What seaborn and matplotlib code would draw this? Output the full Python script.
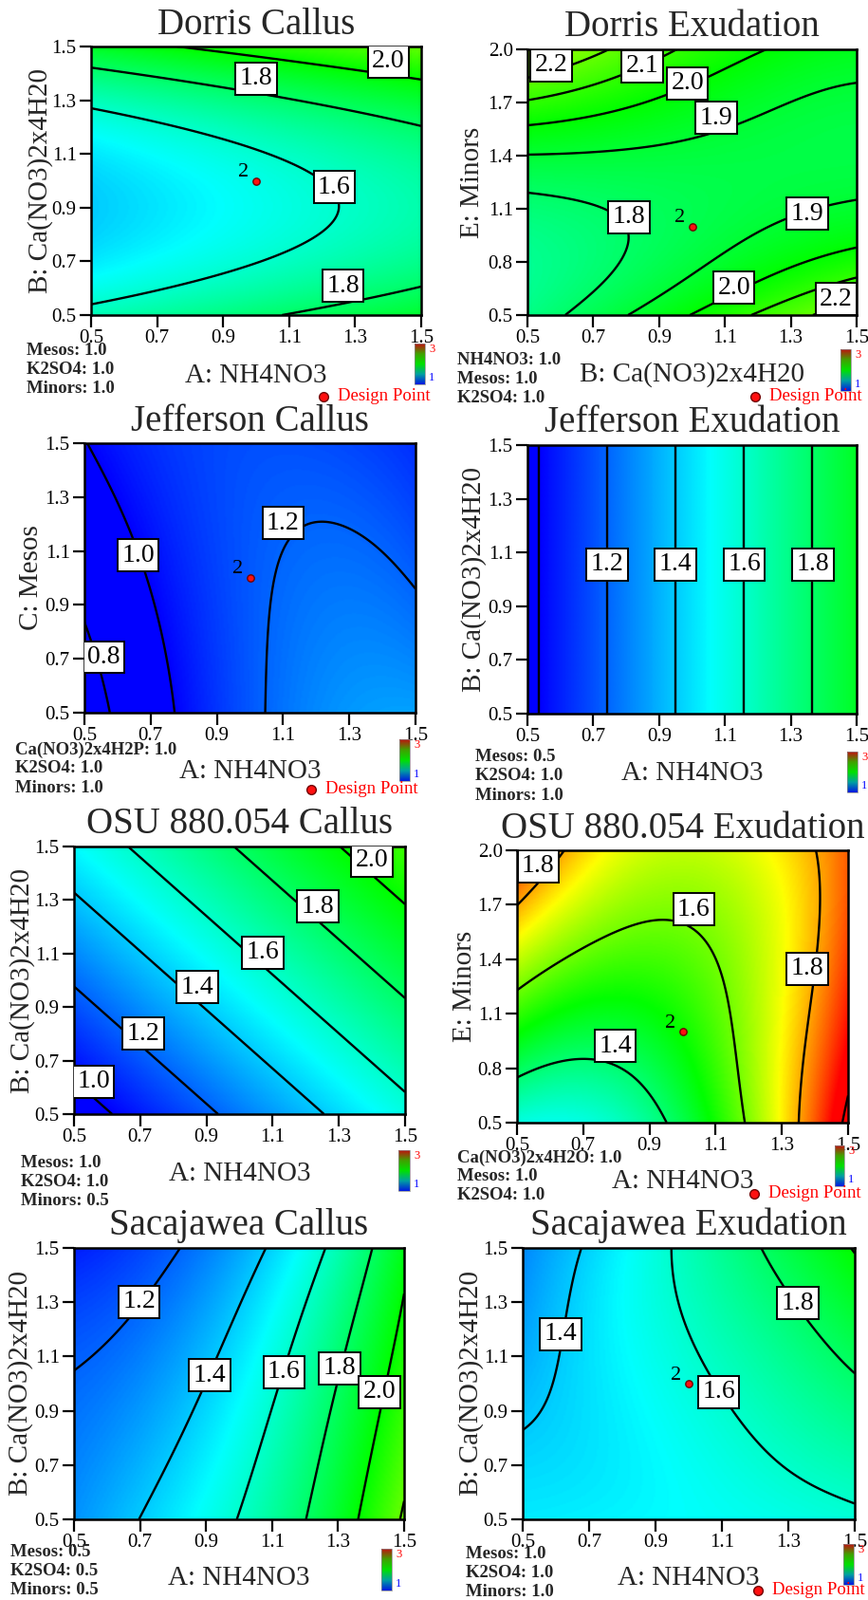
import numpy as np
import matplotlib
matplotlib.use("Agg")
import matplotlib.pyplot as plt
import seaborn as sns
from matplotlib.colors import LinearSegmentedColormap, Normalize
from matplotlib.cm import ScalarMappable
from matplotlib.lines import Line2D

# ---------------- data ----------------
factor_ticks = [0.5, 0.7, 0.9, 1.1, 1.3, 1.5]
minors_ticks = [0.5, 0.8, 1.1, 1.4, 1.7, 2.0]

titles = ["Dorris Callus", "Dorris Exudation", "Jefferson Callus", "Jefferson Exudation",
          "OSU 880.054 Callus", "OSU 880.054 Exudation", "Sacajawea Callus", "Sacajawea Exudation"]
x_labels = ["A: NH4NO3", "B: Ca(NO3)2x4H20", "A: NH4NO3", "A: NH4NO3",
            "A: NH4NO3", "A: NH4NO3", "A: NH4NO3", "A: NH4NO3"]
y_labels = ["B: Ca(NO3)2x4H20", "E: Minors", "C: Mesos", "B: Ca(NO3)2x4H20",
            "B: Ca(NO3)2x4H20", "E: Minors", "B: Ca(NO3)2x4H20", "B: Ca(NO3)2x4H20"]
footnotes = [
    ["Mesos: 1.0", "K2SO4: 1.0", "Minors: 1.0"],
    ["NH4NO3: 1.0", "Mesos: 1.0", "K2SO4: 1.0"],
    ["Ca(NO3)2x4H2P: 1.0", "K2SO4: 1.0", "Minors: 1.0"],
    ["Mesos: 0.5", "K2SO4: 1.0", "Minors: 1.0"],
    ["Mesos: 1.0", "K2SO4: 1.0", "Minors: 0.5"],
    ["Ca(NO3)2x4H2O: 1.0", "Mesos: 1.0", "K2SO4: 1.0"],
    ["Mesos: 0.5", "K2SO4: 0.5", "Minors: 0.5"],
    ["Mesos: 1.0", "K2SO4: 1.0", "Minors: 1.0"],
]

# response read on the tick grid: rows = y ticks (bottom -> top), cols = x ticks (left -> right)
dorris_callus = [
    [1.646, 1.699, 1.752, 1.806, 1.859, 1.912],
    [1.463, 1.516, 1.569, 1.623, 1.676, 1.729],
    [1.400, 1.453, 1.506, 1.560, 1.613, 1.666],
    [1.457, 1.510, 1.563, 1.617, 1.670, 1.723],
    [1.634, 1.687, 1.740, 1.794, 1.847, 1.900],
    [1.931, 1.984, 2.037, 2.091, 2.144, 2.197],
]
dorris_exudation = [
    [1.74, 1.84, 1.95, 2.055, 2.16, 2.27],
    [1.72, 1.77, 1.85, 1.93, 1.985, 2.05],
    [1.77, 1.80, 1.83, 1.86, 1.885, 1.91],
    [1.885, 1.875, 1.865, 1.86, 1.86, 1.865],
    [2.10, 2.06, 2.00, 1.95, 1.91, 1.88],
    [2.34, 2.21, 2.13, 2.04, 1.97, 1.95],
]
jefferson_callus = [
    [0.71, 0.93, 1.10, 1.24, 1.29, 1.32],
    [0.76, 0.96, 1.11, 1.23, 1.27, 1.27],
    [0.82, 0.99, 1.12, 1.22, 1.24, 1.21],
    [0.88, 1.03, 1.13, 1.205, 1.21, 1.17],
    [0.94, 1.06, 1.14, 1.185, 1.18, 1.13],
    [0.995, 1.09, 1.14, 1.16, 1.14, 1.09],
]
jefferson_exudation = [
    [0.967, 1.160, 1.352, 1.544, 1.737, 1.929],
    [0.967, 1.160, 1.352, 1.544, 1.737, 1.929],
    [0.967, 1.160, 1.352, 1.544, 1.737, 1.929],
    [0.967, 1.160, 1.352, 1.544, 1.737, 1.929],
    [0.967, 1.160, 1.352, 1.544, 1.737, 1.929],
    [0.967, 1.160, 1.352, 1.544, 1.737, 1.929],
]
osu_callus = [
    [0.928, 1.053, 1.178, 1.303, 1.428, 1.553],
    [1.042, 1.167, 1.292, 1.417, 1.542, 1.667],
    [1.156, 1.281, 1.406, 1.531, 1.656, 1.781],
    [1.270, 1.395, 1.520, 1.645, 1.770, 1.895],
    [1.384, 1.509, 1.634, 1.759, 1.884, 2.009],
    [1.498, 1.623, 1.748, 1.873, 1.998, 2.123],
]
osu_exudation = [
    [1.30, 1.31, 1.36, 1.52, 1.73, 2.03],
    [1.417, 1.385, 1.41, 1.555, 1.73, 1.97],
    [1.545, 1.50, 1.49, 1.575, 1.72, 1.93],
    [1.67, 1.58, 1.54, 1.60, 1.72, 1.90],
    [1.80, 1.68, 1.62, 1.63, 1.72, 1.87],
    [1.93, 1.76, 1.68, 1.68, 1.74, 1.87],
]
sacajawea_callus = [
    [1.29, 1.404, 1.533, 1.69, 1.925, 2.22],
    [1.26, 1.35, 1.475, 1.645, 1.865, 2.16],
    [1.225, 1.31, 1.42, 1.615, 1.83, 2.11],
    [1.19, 1.27, 1.37, 1.555, 1.79, 2.05],
    [1.13, 1.19, 1.31, 1.48, 1.71, 2.01],
    [1.06, 1.13, 1.26, 1.42, 1.65, 1.96],
]
sacajawea_exudation = [
    [1.465, 1.48, 1.50, 1.52, 1.55, 1.58],
    [1.425, 1.45, 1.49, 1.54, 1.605, 1.65],
    [1.385, 1.45, 1.515, 1.59, 1.67, 1.74],
    [1.34, 1.45, 1.54, 1.63, 1.73, 1.83],
    [1.30, 1.44, 1.555, 1.67, 1.785, 1.915],
    [1.27, 1.418, 1.566, 1.714, 1.862, 2.01],
]
responses = [dorris_callus, dorris_exudation, jefferson_callus, jefferson_exudation,
             osu_callus, osu_exudation, sacajawea_callus, sacajawea_exudation]
y_tick_sets = [factor_ticks, minors_ticks, factor_ticks, factor_ticks,
               factor_ticks, minors_ticks, factor_ticks, factor_ticks]

contour_levels = [
    [1.6, 1.8, 2.0],
    [1.8, 1.9, 2.0, 2.1, 2.2],
    [0.8, 1.0, 1.2],
    [1.0, 1.2, 1.4, 1.6, 1.8],
    [1.0, 1.2, 1.4, 1.6, 1.8, 2.0],
    [1.4, 1.6, 1.8, 2.0],
    [1.2, 1.4, 1.6, 1.8, 2.0, 2.2],
    [1.4, 1.6, 1.8, 2.0],
]
color_limits = [(1.0, 3.0), (1.0, 3.0), (1.0, 3.0), (1.0, 3.0),
                (1.0, 3.0), (1.05, 1.95), (1.0, 3.0), (1.0, 3.0)]
design_point_x = [1.0]
design_point_y = [1.0]
design_point_label = "2"
has_design_point = [True, True, True, False, False, True, False, True]

# ---------------- layout (pixels) ----------------
W, H = 915, 1686
axes_px = [(96, 444, 49, 332), (556, 903, 52, 332), (89, 438, 467, 751), (556, 903, 469, 752),
           (78, 427, 892, 1174), (545, 894, 896, 1183), (78, 426, 1315, 1601), (551, 901, 1315, 1601)]
title_y = [27, 29, 444, 446, 869, 873, 1291, 1291]
xlabel_y = [396, 395, 813, 815, 1237, 1245, 1663, 1663]
ylabel_x = [43, 498, 33, 500, 24, 490, 22, 497]
foot_pos = [(28, 370), (482, 380), (16, 790), (501, 798), (22, 1225), (482, 1220), (11, 1636), (491, 1637)]
cbar_px = [(437, 448, 362, 405), (886, 897, 368, 412), (421, 432, 779, 823), (893, 904, 792, 835),
           (420, 432, 1212, 1255), (880, 890, 1207, 1250), (402, 413, 1632, 1676), (889, 900, 1627, 1670)]
legend_px = [(341, 418), (796, 418), (328, 832), None, None, (795, 1258), None, (799, 1676)]
label_positions = [
    [(1.401, 1.445), (1.0, 1.38), (1.237, 0.977), (1.263, 0.608)],
    [(0.572, 1.911), (0.848, 1.905), (0.986, 1.809), (1.074, 1.613), (0.808, 1.054),
     (1.351, 1.071), (1.127, 0.655), (1.438, 0.589)],
    [(0.662, 1.083), (0.559, 0.706), (1.1, 1.203)],
    [(0.742, 1.056), (0.95, 1.056), (1.159, 1.056), (1.368, 1.056)],
    [(0.559, 0.621), (0.71, 0.80), (0.873, 0.975), (1.071, 1.103), (1.236, 1.276), (1.399, 1.447)],
    [(0.564, 1.913), (1.034, 1.674), (1.377, 1.347), (0.797, 0.923)],
    [(0.697, 1.302), (0.911, 1.030), (1.136, 1.042), (1.304, 1.057), (1.426, 0.969)],
    [(0.614, 1.183), (1.09, 0.969), (1.329, 1.297)],
]

# ---------------- style ----------------
sns.set_theme(style="ticks")
serif = ["Liberation Serif", "DejaVu Serif"]
plt.rcParams["font.family"] = serif
plt.rcParams["axes.linewidth"] = 1.8

cmap = LinearSegmentedColormap.from_list(
    "de", ["#0000ff", "#00ffff", "#00ff00", "#ffff00", "#ff0000"])
icon_cmap = LinearSegmentedColormap.from_list(
    "icon", ["#0018e0", "#00a0a0", "#00e000", "#40a000", "#c01010"])


def fx(px):
    return px / W


def fy(py):
    return 1 - py / H


def fit_surface(xv, yv, zrows, n=241):
    xv = np.asarray(xv, float)
    yv = np.asarray(yv, float)
    Z = np.asarray(zrows, float)
    gx, gy = np.meshgrid(xv, yv)
    cx, sx = xv.mean(), np.ptp(xv) / 2
    cy, sy = yv.mean(), np.ptp(yv) / 2

    def basis(x, y):
        u = (x - cx) / sx
        v = (y - cy) / sy
        return np.stack([u ** i * v ** j for i in range(4) for j in range(4)], axis=-1)

    coef, *_ = np.linalg.lstsq(basis(gx.ravel(), gy.ravel()), Z.ravel(), rcond=None)
    FX, FY = np.meshgrid(np.linspace(xv.min(), xv.max(), n), np.linspace(yv.min(), yv.max(), n))
    return FX, FY, basis(FX, FY) @ coef


fig = plt.figure(figsize=(W / 100, H / 100), dpi=100)

for k in range(8):
    l, r, t, b = axes_px[k]
    ax = fig.add_axes([fx(l), fy(b), (r - l) / W, (b - t) / H])
    xs, ys = factor_ticks, y_tick_sets[k]
    FX, FY, FZ = fit_surface(xs, ys, responses[k])
    vmin, vmax = color_limits[k]
    ax.pcolormesh(FX, FY, FZ, cmap=cmap, norm=Normalize(vmin, vmax), shading="gouraud", zorder=1)
    cs = ax.contour(FX, FY, FZ, levels=contour_levels[k], colors="black", linewidths=1.7, zorder=3)
    ax.clabel(cs, inline=False, fontsize=20, fmt="%.1f", colors="black",
              manual=label_positions[k])
    for txt, pos in zip(cs.labelTexts, label_positions[k]):
        txt.set_position(pos)
        txt.set_rotation(0)
        txt.set_family(serif)
        txt.set_zorder(6)
        txt.set_bbox(dict(boxstyle="square,pad=0.16", fc="white", ec="black", lw=1.4))

    if has_design_point[k]:
        sns.scatterplot(x=design_point_x, y=design_point_y, ax=ax, color="#ff1010",
                        edgecolor="#700000", linewidth=1.0, s=28, zorder=7, legend=False)
        ax.annotate(design_point_label, (design_point_x[0], design_point_y[0]),
                    xytext=(-13, 9), textcoords="offset pixels", ha="center", va="center",
                    fontsize=16, color="black", zorder=7)

    ax.set_xlim(xs[0], xs[-1])
    ax.set_ylim(ys[0], ys[-1])
    ax.set_xticks(xs)
    ax.set_yticks(ys)
    ax.set_xticklabels([f"{v:.1f}" for v in xs])
    ax.set_yticklabels([f"{v:.1f}" for v in ys])
    ax.tick_params(direction="out", length=9, width=1.6, labelsize=15, pad=2,
                   colors="black", top=False, right=False)
    for sp in ax.spines.values():
        sp.set_color("black")
        sp.set_linewidth(1.8)
    ax.set_xlabel("")
    ax.set_ylabel("")

    cxp = (l + r) / 2
    fig.text(fx(cxp), fy(title_y[k]), titles[k], ha="center", va="center", fontsize=28)
    fig.text(fx(cxp), fy(xlabel_y[k]), x_labels[k], ha="center", va="center", fontsize=21)
    fig.text(fx(ylabel_x[k]), fy((t + b) / 2), y_labels[k], ha="center", va="center",
             rotation=90, fontsize=21)
    x0, y0 = foot_pos[k]
    for i, line in enumerate(footnotes[k]):
        fig.text(fx(x0), fy(y0 + 20 * i), line, ha="left", va="center", fontsize=13.5,
                 fontweight="bold")

    c0, c1, ct, cb = cbar_px[k]
    cax = fig.add_axes([fx(c0), fy(cb), (c1 - c0) / W, (cb - ct) / H])
    cb_obj = fig.colorbar(ScalarMappable(norm=Normalize(1, 3), cmap=icon_cmap), cax=cax, ticks=[])
    cb_obj.outline.set_linewidth(0.5)
    cb_obj.outline.set_edgecolor("#888888")
    fig.text(fx(c1 + 4), fy(ct + 6), "3", color="red", fontsize=9, ha="left", va="center")
    fig.text(fx(c1 + 4), fy(cb - 7), "1", color="blue", fontsize=9, ha="left", va="center")

    if legend_px[k] is not None:
        lx, ly = legend_px[k]
        fig.add_artist(Line2D([fx(lx)], [fy(ly)], marker="o", markersize=7, color="#ff1010",
                              markeredgecolor="#700000", transform=fig.transFigure))
        fig.text(fx(lx + 15), fy(ly), "Design Point", color="red", fontsize=13.5,
                 ha="left", va="center")

fig.savefig("out.png", dpi=100)
